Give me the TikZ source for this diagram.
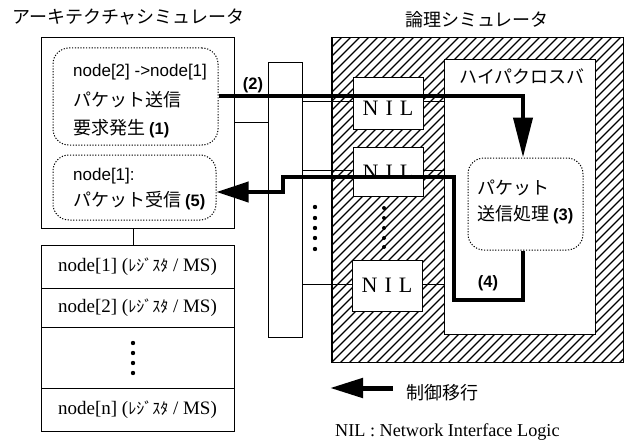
\documentclass[tikz,border=0pt]{standalone}
\usepackage{fontspec}
\setmainfont{Liberation Serif}
\newfontfamily\jp{Noto Sans CJK JP}
\newfontfamily\lsans{Liberation Sans}
\usetikzlibrary{arrows.meta}
\newcommand\labtxt[1]{{\lsans\bfseries\fontsize{16.5}{18}\selectfont #1}}
\newcommand\hwk[1]{{\jp\fontsize{16}{18}\selectfont #1}}
\begin{document}
\begin{tikzpicture}[x=1pt,y=-1pt,
  box/.style={draw, line width=1pt, inner sep=0pt},
  dotbox/.style={draw, line width=1pt, dash pattern=on 1.2pt off 1.6pt, rounded corners=16pt, inner sep=0pt},
  jtxt/.style={font=\jp\fontsize{18}{20}\selectfont, inner sep=0pt},
  stxt/.style={font=\lsans\fontsize{17}{20}\selectfont, inner sep=0pt},
  rtxt/.style={font=\fontsize{19}{20}\selectfont, inner sep=0pt},
  notetxt/.style={font=\fontsize{18.2}{20}\selectfont, inner sep=0pt},
  niltxt/.style={font=\fontsize{22}{22}\selectfont, inner sep=0pt},
  lab/.style={font=\lsans\bfseries\fontsize{16.5}{18}\selectfont, inner sep=0pt},
  thin/.style={line width=1pt},
  heavy/.style={line width=4pt},
  dotmark/.style={fill=black}]
\useasboundingbox (0,0) rectangle (624,444);

% titles
\node[jtxt, anchor=west] (tarch) at (12,17) {アーキテクチャシミュレータ};
\node[jtxt] (tlogic) at (477,20) {論理シミュレータ};

% architecture simulator
\node[box, minimum width=193pt, minimum height=190pt] (arch) at (137.5,133) {};
\node[dotbox, minimum width=165pt, minimum height=97pt] (req) at (135.5,96.5) {};
\node[dotbox, minimum width=163pt, minimum height=65pt] (recv) at (134.5,187.5) {};
\node[stxt, anchor=west] (reqA) at (73,72) {node[2] ->node[1]};
\node[jtxt, anchor=west] (reqB) at (73,100) {パケット送信};
\node[jtxt, anchor=west] (reqC) at (73,129) {要求発生 \labtxt{(1)}};
\node[stxt, anchor=west] (recvA) at (73,176) {node[1]:};
\node[jtxt, anchor=west] (recvB) at (73,201) {パケット受信 \labtxt{(5)}};

% register stack
\node[box, minimum width=193pt, minimum height=43pt, rtxt] (r1) at (137.5,266.5) {node[1] (\hwk{ﾚｼﾞｽﾀ} / MS)};
\node[box, minimum width=193pt, minimum height=39pt, rtxt] (r2) at (137.5,307.5) {node[2] (\hwk{ﾚｼﾞｽﾀ} / MS)};
\node[box, minimum width=193pt, minimum height=61pt] (r3) at (137.5,357.5) {};
\node[box, minimum width=193pt, minimum height=43pt, rtxt] (r4) at (137.5,409.5) {node[n] (\hwk{ﾚｼﾞｽﾀ} / MS)};
\foreach \y in {343,353,363,373} \fill[dotmark] (133,\y) circle (2.2pt);
\draw[thin] (arch.south -| 133,0) -- (r1.north -| 133,0);

% bus
\node[box, minimum width=34pt, minimum height=274pt] (bus) at (285,200) {};
\foreach \y in {207,218,228,238,249} \fill[dotmark] (315,\y) circle (2.2pt);

% logic simulator (hatched)
\node[box, minimum width=291pt, minimum height=324pt] (logic) at (477.5,200) {};
\begin{scope}
  \clip (logic.south west) rectangle (logic.north east);
  \foreach \c in {0,9,...,639} \draw[line width=1.2pt] (\c,370) -- ++(340,-340);
\end{scope}
\draw[line width=1pt] (logic.south west) rectangle (logic.north east);

\node[box, fill=white, minimum width=151pt, minimum height=274pt] (xbar) at (519.5,197) {};
\node[jtxt] (txbar) at (522,77) {ハイパクロスバ};

\node[box, fill=white, minimum width=70pt, minimum height=51pt] (nil1) at (388,103.5) {};
\node[box, fill=white, minimum width=70pt, minimum height=49pt] (nil2) at (388,171.5) {};
\node[box, fill=white, minimum width=70pt, minimum height=51pt] (nil3) at (387,285.5) {};
\node[niltxt] (nil1t) at (388,108) {N\hspace{7pt}I\hspace{7pt}L};
\node[niltxt] (nil2t) at (388,172) {N\hspace{7pt}I\hspace{7pt}L};
\node[niltxt] (nil3t) at (387,285.5) {N\hspace{7pt}I\hspace{7pt}L};
\foreach \y in {208,218,228,238,247} \fill[dotmark] (384,\y) circle (2pt);

\node[dotbox, minimum width=115pt, minimum height=92pt] (proc) at (525.5,204) {};
\node[jtxt, anchor=west] (procA) at (477,188) {パケット};
\node[jtxt, anchor=west] (procB) at (477,215) {送信処理 \labtxt{(3)}};

% thin connectors
\draw[thin] (arch.east |- 0,122) -- (bus.west |- 0,122);
\draw[thin] (bus.east |- 0,101) -- (nil1.west |- 0,101);
\draw[thin] (nil1.east |- 0,101) -- (xbar.west |- 0,101);
\draw[thin] (bus.east |- 0,170) -- (nil2.west |- 0,170);
\draw[thin] (nil2.east |- 0,170) -- (xbar.west |- 0,170);
\draw[thin] (bus.east |- 0,284) -- (nil3.west |- 0,284);
\draw[thin] (nil3.east |- 0,284) -- (xbar.west |- 0,284);

% control flow
\draw[heavy, -{Triangle[length=40pt,width=19pt]}] (req.east |- 0,96) -| (proc.north -| 523,0);
\node[lab] (l2) at (253,85) {(2)};
\draw[heavy, -{Triangle[length=32pt,width=20pt]}] (proc.south -| 523,0) -- (523,300) -- (454,300) -- (454,177) -- (283,177) -- (283,192) -- (recv.east |- 0,192);
\node[lab] (l4) at (488,283) {(4)};

% legend
\coordinate (lgS) at (393,388);
\coordinate (lgE) at (330,388);
\draw[line width=5pt, -{Triangle[length=33pt,width=19pt]}] (lgS) -- (lgE);
\node[jtxt, anchor=west] (lgT) at (406,393) {制御移行};
\node[notetxt, anchor=west] (nilnote) at (335,432) {NIL : Network Interface Logic};
\end{tikzpicture}
\end{document}
